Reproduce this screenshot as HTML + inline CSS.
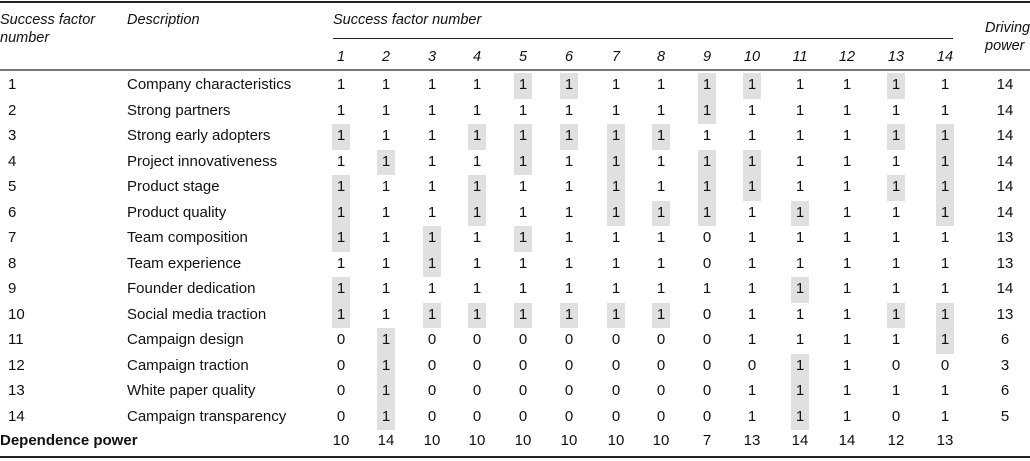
<!DOCTYPE html>
<html><head><meta charset="utf-8">
<style>
body{margin:0;width:1030px;height:461px;background:#fff;position:relative;overflow:hidden;font-family:"Liberation Sans",sans-serif;color:#111}
.t{position:absolute;white-space:nowrap;font-size:15px;line-height:18px}
.i{font-style:italic;font-size:14.5px}
.c{transform:translateX(-50%)}
.rule{position:absolute;background:#222}
.sh{position:absolute;background:#e0e0e0}
</style></head>
<body>
<div class="rule" style="left:0;top:1px;width:1030px;height:2px"></div>
<div class="rule" style="left:333px;top:38px;width:620px;height:1px"></div>
<div class="rule" style="left:0;top:69px;width:1030px;height:2px;background:#777"></div>
<div class="rule" style="left:0;top:456px;width:1030px;height:2px"></div>
<div class="t i" style="left:0;top:11px">Success factor<br>number</div>
<div class="t i" style="left:127px;top:11px">Description</div>
<div class="t i" style="left:333px;top:11px">Success factor number</div>
<div class="t i" style="left:985px;top:19px">Driving<br>power</div>
<div id="g"></div>
<script>
const labels=["Company characteristics","Strong partners","Strong early adopters","Project innovativeness","Product stage","Product quality","Team composition","Team experience","Founder dedication","Social media traction","Campaign design","Campaign traction","White paper quality","Campaign transparency"];
const matrix=[
"11111111111111","11111111111111","11111111111111","11111111111111","11111111111111","11111111111111",
"11111111011111","11111111011111","11111111111111","11111111011111",
"01000000011111","01000000001100","01000000011111","01000000011101"];
const shaded=[[5,6,9,10,13],[9],[1,4,5,6,7,8,13,14],[2,5,7,9,10,14],[1,4,7,9,10,13,14],[1,4,7,8,9,11,14],[1,3,5],[3],[1,11],[1,3,4,5,6,7,8,13,14],[2,14],[2,11],[2,11],[2,11]];
const driving=[14,14,14,14,14,14,13,13,14,13,6,3,6,5];
const dependence=[10,14,10,10,10,10,10,10,7,13,14,14,12,13];
const colX=[341,386,432,477,523,569,616,661,707,752,800,847,896,945];
const g=document.getElementById('g');
const rowY=r=>85+r*25.5;
function add(cls,txt,x,y,extra){const d=document.createElement('div');d.className=cls;d.textContent=txt;d.style.left=x+'px';d.style.top=(y-9)+'px';if(extra)d.style.cssText+=extra;g.appendChild(d);return d;}
shaded.forEach((cols,r)=>cols.forEach(c=>{const d=document.createElement('div');d.className='sh';


d.style.left=(colX[c-1]-9)+'px';d.style.top=(rowY(r)-12)+'px';d.style.width='18px';d.style.height='25.5px';g.appendChild(d);}));
colX.forEach((x,i)=>{const d=add('t i c',String(i+1),x,57);

});
labels.forEach((l,r)=>{const y=rowY(r);
let d=add('t',String(r+1),8,y);


d=add('t',l,127,y);


matrix[r].split('').forEach((v,c)=>{const e=add('t c',v,colX[c],y);

});
d=add('t c',String(driving[r]),1005,y);

});
let dl=add('t','Dependence power',0,441,'font-weight:bold');


dependence.forEach((v,c)=>{const e=add('t c',String(v),colX[c],441);

});
</script>
</body></html>
